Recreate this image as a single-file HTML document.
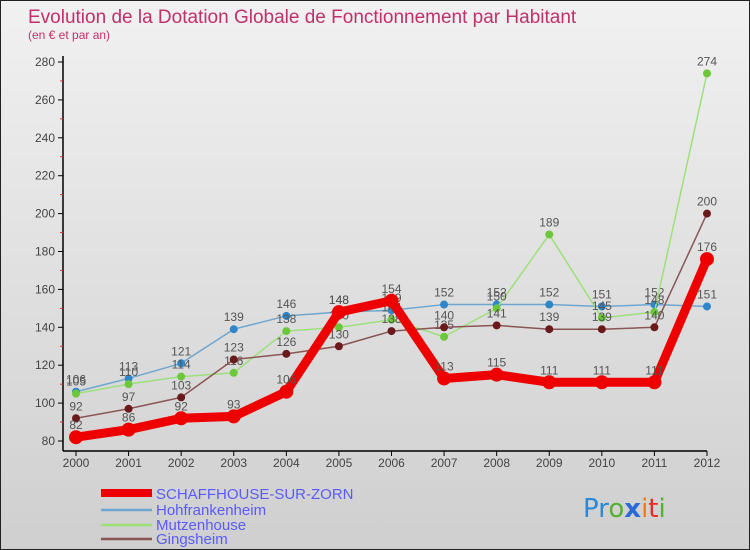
<!DOCTYPE html>
<html><head><meta charset="utf-8"><style>
body{margin:0;}
#c{width:750px;height:550px;position:relative;background:linear-gradient(#f1f1f1,#cfcfcf);border:1px solid #222;box-sizing:border-box;font-family:"Liberation Sans",sans-serif;overflow:hidden}
svg{position:absolute;left:0;top:0}
</style></head><body>
<div id="c">
<svg id="s" width="750" height="550">
<text x="27" y="22" font-size="19" fill="#c0306a">Evolution de la Dotation Globale de Fonctionnement par Habitant</text>
<text x="27" y="38" font-size="12" fill="#c0306a">(en € et par an)</text>
<g id="legend">
<line x1="100" y1="492" x2="151" y2="492" stroke="#ee0000" stroke-width="8"/>
<text x="155" y="498" font-size="15" fill="#5a5aff">SCHAFFHOUSE-SUR-ZORN</text>
<line x1="100" y1="509" x2="151" y2="509" stroke="#6fa6cf" stroke-width="2.5"/>
<text x="155" y="514" font-size="15" fill="#5a5aff">Hohfrankenheim</text>
<line x1="100" y1="524" x2="151" y2="524" stroke="#9de07a" stroke-width="2.5"/>
<text x="155" y="529" font-size="15" fill="#5a5aff">Mutzenhouse</text>
<line x1="100" y1="538" x2="151" y2="538" stroke="#8a5555" stroke-width="2.5"/>
<text x="155" y="543" font-size="15" fill="#5a5aff">Gingsheim</text>
</g>
<g font-size="26" font-family="'DejaVu Sans',sans-serif">
<text x="582" y="516"><tspan fill="#2a8ad8">P</tspan><tspan fill="#2a8ad8">r</tspan><tspan fill="#55b030">o</tspan><tspan fill="#2a6ad8" font-weight="bold">x</tspan><tspan fill="#f07a10">i</tspan><tspan fill="#e03020">t</tspan><tspan fill="#55b030">i</tspan></text>
</g>
</svg>
</div>
<script>
const years=["2000","2001","2002","2003","2004","2005","2006","2007","2008","2009","2010","2011","2012"];
const schaff=[82,86,92,93,106,148,154,113,115,111,111,111,176];
const hohf=[106,113,121,139,146,148,149,152,152,152,151,152,151];
const mutz=[105,110,114,116,138,140,144,135,150,189,145,148,274];
const gings=[92,97,103,123,126,130,138,140,141,139,139,140,200];
const yTicks=[80,100,120,140,160,180,200,220,240,260,280];
const NS="http://www.w3.org/2000/svg",s=document.getElementById('s');
const X=i=>75+i*(706-75)/12, Y=v=>440-(v-80)*(440-61)/200;
function el(t,a,p){const e=document.createElementNS(NS,t);for(const k in a)e.setAttribute(k,a[k]);(p||s).appendChild(e);return e;}
const ax=el('g',{});


el('line',{x1:62,y1:55,x2:62,y2:450,stroke:'#000','stroke-width':1.5},ax);
el('line',{x1:62,y1:450,x2:706,y2:450,stroke:'#000','stroke-width':1.5},ax);
for(let v=90;v<=270;v+=20){el('line',{x1:59,x2:62,y1:Y(v),y2:Y(v),stroke:'#e03030'},ax);}
yTicks.forEach(v=>{el('line',{x1:57,x2:62,y1:Y(v),y2:Y(v),stroke:'#000'},ax);
 const t=el('text',{x:54,y:Y(v)+4,'font-size':12,fill:'#444','text-anchor':'end'},ax);t.textContent=v;
 
 });
years.forEach((y,i)=>{el('line',{x1:X(i),x2:X(i),y1:450,y2:455,stroke:'#000'},ax);
 const t=el('text',{x:X(i),y:466,'font-size':12,fill:'#444','text-anchor':'middle'},ax);t.textContent=y;
 
 });
function series(d,name,col,dot,w,r){
 const g=el('g',{});
 
 
 el('polyline',{points:d.map((v,i)=>X(i)+','+Y(v)).join(' '),fill:'none',stroke:col,'stroke-width':w,'stroke-linejoin':'round'},g);
 d.forEach((v,i)=>{const c=el('circle',{cx:X(i),cy:Y(v),r:r,fill:dot},g);
  
  
  const t=el('text',{x:X(i),y:Y(v)-8,'font-size':12,fill:'#555','text-anchor':'middle'},g);t.textContent=v;
  
  });
}
series(hohf,'hohfrankenheim','#6fa6cf','#2f86c8',1.5,4);
series(mutz,'mutzenhouse','#9de07a','#6cc83a',1.5,4);
series(gings,'gingsheim','#8a5555','#6a1a1a',1.5,4);
series(schaff,'schaffhouse','#ee0000','#ee0000',9,7);
</script>
</body></html>
